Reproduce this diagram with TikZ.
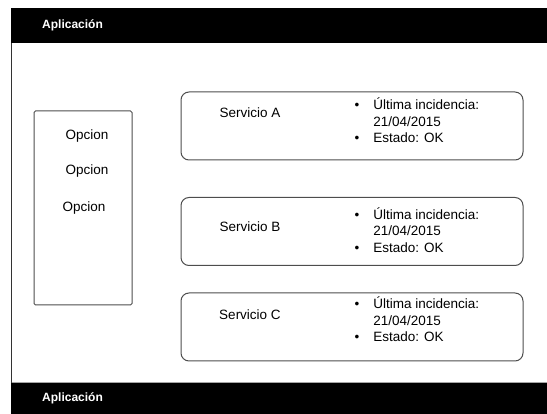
\documentclass[tikz,border=0pt]{standalone}
\usepackage{fontspec}
\setmainfont{Liberation Sans}
\definecolor{borde}{HTML}{4D4D4D}
\definecolor{linea}{HTML}{A6A6A6}

\tikzset{
    barra/.style={fill=black, inner sep=0pt, minimum width=536pt, minimum height=35pt, anchor=north west},
    titulo/.style={text=white, font=\fontsize{12}{14}\selectfont\bfseries, anchor=west, inner sep=0pt},
    menu/.style={draw=borde, line width=1pt, rounded corners=1.5pt, minimum width=98pt, minimum height=194pt, inner sep=0pt},
    servicio/.style={draw=borde, line width=1pt, rounded corners=8pt, minimum width=342pt, minimum height=68pt, inner sep=0pt},
    texto/.style={font=\fontsize{13.5}{16.5}\selectfont, inner sep=0pt},
}

\newcommand{\detalle}{%
    \begin{tabular}{@{}l@{\hspace{14pt}}l@{}}
        \textbullet & Última incidencia:\\
                    & 21/04/2015\\
        \textbullet & Estado: OK
    \end{tabular}}

\begin{document}
\begin{tikzpicture}[x=1pt, y=-1pt]
    \useasboundingbox (0,0) rectangle (547,414);

    % marco de la pantalla
    \draw [linea, line width=1pt] (548,43) -- (11,43) -- (11,383) -- (548,383);
    \draw [black!80, line width=1pt] (11,43) -- (11,383);
    \node [barra] (arriba) at (11,8) {};
    \node [barra, minimum height=31pt] (abajo) at (11,383) {};
    \node [titulo] (tituloArriba) at (42,25) {Aplicación};
    \node [titulo] (tituloAbajo) at (42,398) {Aplicación};

    % menu lateral
    \node [menu] (menu) at (83,208) {};
    \node [texto] (op1) at (87,136) {Opcion};
    \node [texto] (op2) at (87,171) {Opcion};
    \node [texto] (op3) at (84,208) {Opcion};

    % servicios
    \node [servicio] (srvA) at (352,126) {};
    \node [servicio] (srvB) at (352,231.5) {};
    \node [servicio] (srvC) at (352,327) {};

    \node [texto] (nomA) at (250,113) {Servicio A};
    \node [texto] (nomB) at (250,227) {Servicio B};
    \node [texto] (nomC) at (250,315) {Servicio C};

    \node [texto, anchor=west] (detA) at ([xshift=174pt, yshift=3pt]srvA.west) {\detalle};
    \node [texto, anchor=west] (detB) at ([xshift=174pt, yshift=-1pt]srvB.west) {\detalle};
    \node [texto, anchor=west] (detC) at ([xshift=174pt, yshift=5pt]srvC.west) {\detalle};
\end{tikzpicture}
\end{document}
